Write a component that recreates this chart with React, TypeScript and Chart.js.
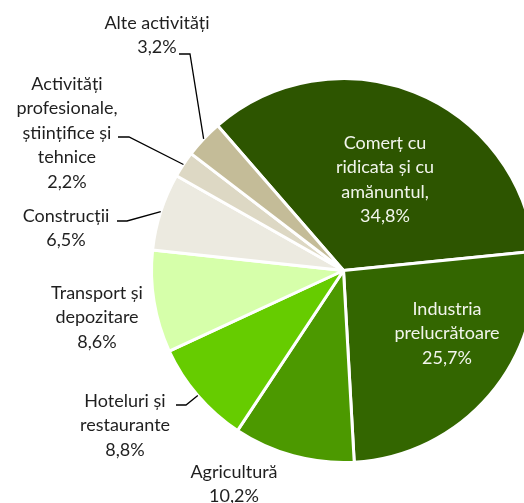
import React, { useEffect, useRef } from "react";
import { Chart, registerables } from "chart.js";

Chart.register(...registerables);

const categories = [
  "Comerț cu ridicata și cu amănuntul",
  "Industria prelucrătoare",
  "Agricultură",
  "Hoteluri și restaurante",
  "Transport și depozitare",
  "Construcții",
  "Activități profesionale, științifice și tehnice",
  "Alte activități",
];
const shares = [34.8, 25.7, 10.2, 8.8, 8.6, 6.5, 2.2, 3.2];
const labelLines = [
  ["Comerț cu", "ridicata și cu", "amănuntul,", "34,8%"],
  ["Industria", "prelucrătoare", "25,7%"],
  ["Agricultură", "10,2%"],
  ["Hoteluri și", "restaurante", "8,8%"],
  ["Transport și", "depozitare", "8,6%"],
  ["Construcții", "6,5%"],
  ["Activități", "profesionale,", "științifice și", "tehnice", "2,2%"],
  ["Alte activități", "3,2%"],
];
const colors = ["#2D5500", "#336600", "#4C9900", "#66CC00", "#D6FFAA", "#ECEAE0", "#DDD8C4", "#C4BC98"];

// label layout (style): text centre x, first line y, text colour, leader elbow [x,y], leader text end x
const labelLayout = [
  { x: 385, y: 143, color: "#F2F5EC", elbow: null as null | number[], textEnd: 0 },
  { x: 447, y: 309, color: "#F2F5EC", elbow: null, textEnd: 0 },
  { x: 234, y: 472, color: "#1F1F1F", elbow: null, textEnd: 0 },
  { x: 125, y: 401, color: "#1F1F1F", elbow: [186, 405], textEnd: 176 },
  { x: 97, y: 293, color: "#1F1F1F", elbow: null, textEnd: 0 },
  { x: 66, y: 216, color: "#1F1F1F", elbow: [127, 221], textEnd: 117 },
  { x: 67, y: 84, color: "#1F1F1F", elbow: [129, 137], textEnd: 118 },
  { x: 157, y: 23, color: "#1F1F1F", elbow: [190, 54], textEnd: 179 },
];
const LINE_H = 24.5;

const labelPlugin = {
  id: "pieLabels",
  afterDraw(chart: any) {
    const ctx = chart.ctx;
    const meta = chart.getDatasetMeta(0);
    ctx.save();
    ctx.font = "18px Lato, 'Open Sans', sans-serif";
    ctx.textAlign = "center";
    ctx.textBaseline = "middle";
    meta.data.forEach((arc: any, i: number) => {
      const lay = labelLayout[i];
      const lines = labelLines[i];
      if (lay.elbow) {
        const p = arc.getProps(["x", "y", "startAngle", "endAngle", "outerRadius"], true);
        const mid = (p.startAngle + p.endAngle) / 2;
        const ex = p.x + Math.cos(mid) * p.outerRadius;
        const ey = p.y + Math.sin(mid) * p.outerRadius;
        ctx.beginPath();
        ctx.strokeStyle = "#000";
        ctx.lineWidth = 1.3;
        ctx.moveTo(lay.textEnd, lay.elbow[1]);
        ctx.lineTo(lay.elbow[0], lay.elbow[1]);
        ctx.lineTo(ex, ey);
        ctx.stroke();
      }
      ctx.fillStyle = lay.color;
      lines.forEach((t, k) => ctx.fillText(t, lay.x, lay.y + k * LINE_H));
    });
    ctx.restore();
  },
};

export default function App() {
  const ref = useRef<HTMLCanvasElement>(null);
  useEffect(() => {
    if (!ref.current) return;
    const chart = new Chart(ref.current, {
      type: "pie",
      data: {
        labels: categories,
        datasets: [
          {
            data: shares,
            backgroundColor: colors,
            borderColor: "#FFFFFF",
            borderWidth: 3,
          },
        ],
      },
      options: {
        responsive: false,
        animation: false,
        rotation: -41,
        layout: { padding: { left: 150, top: 77, right: 23, bottom: 39 } },
        plugins: { legend: { display: false }, tooltip: { enabled: false } },
      },
      plugins: [labelPlugin],
    });
    (document as any).fonts?.ready?.then(() => chart.update());
    return () => chart.destroy();
  }, []);
  return (
    <div style={{ position: "fixed", left: 0, top: 0, width: 524, height: 503, overflow: "hidden", background: "#fff" }}>
      <canvas ref={ref} width={560} height={503} style={{ display: "block" }} />
    </div>
  );
}
